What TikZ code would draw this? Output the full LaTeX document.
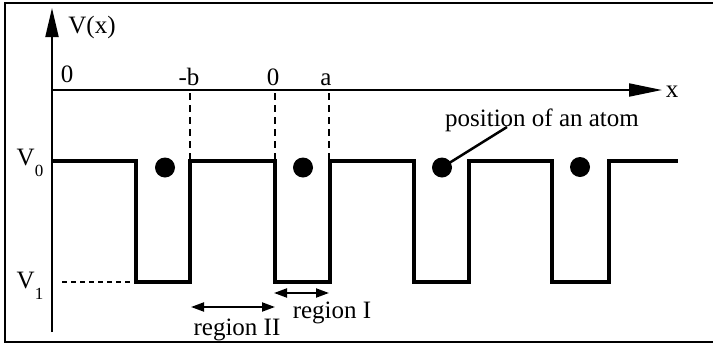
\documentclass[tikz,border=0pt]{standalone}
\usepackage{fontspec}
\setmainfont{Liberation Serif}
\usetikzlibrary{arrows.meta}
\newcommand{\lbl}{\fontsize{25}{28}\selectfont}
\newcommand{\subsz}{\fontsize{17}{18}\selectfont}
\begin{document}
\begin{tikzpicture}[x=1pt,y=-1pt,
  lab/.style={inner sep=0pt,anchor=base,font=\lbl},
  axisline/.style={line width=2pt},
  potline/.style={line width=4pt,line join=miter},
  guide/.style={line width=2pt,dash pattern=on 7pt off 5pt},
  atom/.style={circle,fill=black,inner sep=0pt,minimum size=20pt},
  regarrow/.style={line width=2pt,{Triangle[length=13pt,width=9pt]}-{Triangle[length=13pt,width=9pt]}}]
\useasboundingbox (0,0) rectangle (713,346);
% frame
\draw[line width=2.5pt] (713,3) -- (5,3) -- (5,342) -- (713,342);
% axes
\coordinate (ybot) at (52,332);
\coordinate (ytop) at (52,8);
\coordinate (xleft) at (52,90);
\coordinate (xright) at (662,90);
\draw[axisline,-{Triangle[length=29pt,width=13pt]}] (ybot) -- (ytop);
\draw[axisline,-{Triangle[length=33pt,width=13pt]}] (xleft) -- (xright);
\node[lab] (Vx) at (92,33) {V(x)};
\node[lab] (xl) at (672,97) {x};
\node[lab] (z1) at (67,82) {0};
\node[lab] (mb) at (189,85) {-b};
\node[lab] (z2) at (273,85) {0};
\node[lab] (al) at (326,85) {a};
\node[lab] (V0) at (30,165) {V\raisebox{-0.45em}{\subsz 0}};
\node[lab] (V1) at (30,288) {V\raisebox{-0.45em}{\subsz 1}};
% guides
\coordinate (gb1) at (190,93); \coordinate (gb2) at (190,159);
\coordinate (g01) at (275,93); \coordinate (g02) at (275,159);
\coordinate (ga1) at (329,93); \coordinate (ga2) at (329,159);
\draw[guide] (gb1) -- (gb2);
\draw[guide] (g01) -- (g02);
\draw[guide] (ga1) -- (ga2);
\coordinate (v1a) at (62,282); \coordinate (v1b) at (136,282);
\draw[line width=2pt,dash pattern=on 5pt off 4pt] (v1a) -- (v1b);
% potential
\draw[potline] (52,161) -- (136,161) -- (136,282) -- (190,282) -- (190,161)
  -- (275,161) -- (275,282) -- (330,282) -- (330,161)
  -- (414,161) -- (414,282) -- (469,282) -- (469,161)
  -- (552,161) -- (552,282) -- (609,282) -- (609,161) -- (678,161);
% atoms
\node[atom] (a1) at (165,167.5) {};
\node[atom] (a2) at (303,167.5) {};
\node[atom] (a3) at (442,167.5) {};
\node[atom] (a4) at (580,167) {};
\node[lab] (pos) at (542,126) {position of an atom};
\coordinate (postip) at (507,127);
\draw[line width=2.5pt] (a3.center) -- (postip);
% regions
\coordinate (r2a) at (191,307); \coordinate (r2b) at (275,307);
\coordinate (r1a) at (274,293); \coordinate (r1b) at (329,293);
\draw[regarrow] (r2a) -- (r2b);
\draw[regarrow] (r1a) -- (r1b);
\node[lab] (reg2) at (237,335) {region II};
\node[lab] (reg1) at (332,318) {region I};
\end{tikzpicture}
\end{document}
